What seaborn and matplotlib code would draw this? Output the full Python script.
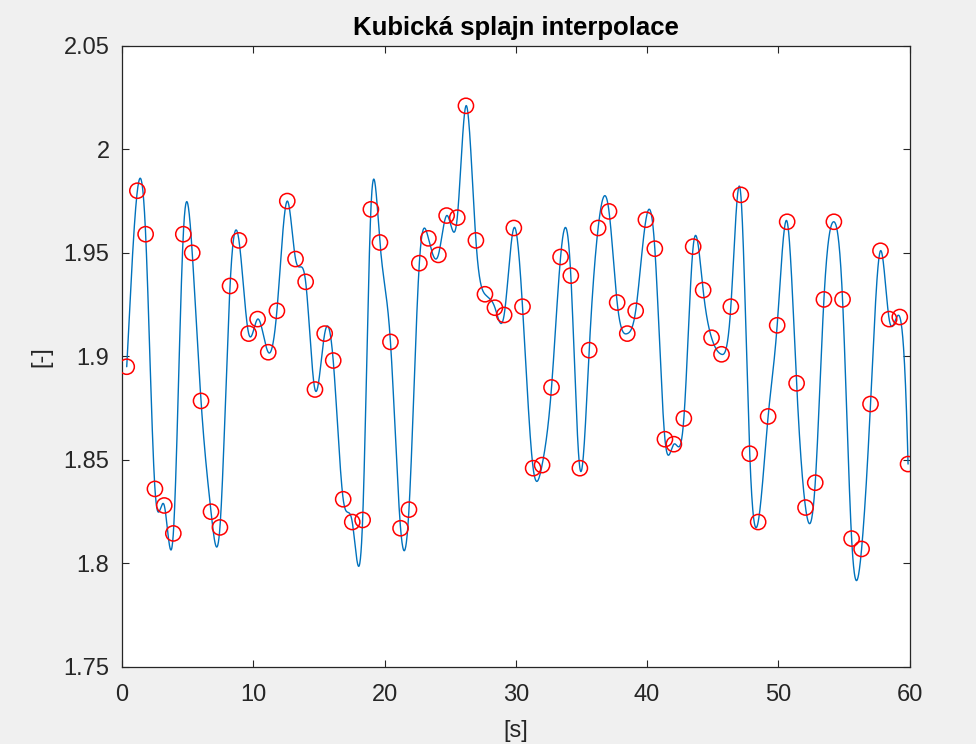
import numpy as np
import pandas as pd
import matplotlib
matplotlib.use("Agg")
import matplotlib.pyplot as plt
import seaborn as sns

# measured samples (time [s], value [-])
t = [0.36, 1.17, 1.80, 2.51, 3.22, 3.91, 4.67, 5.35, 6.02, 6.78,
     7.46, 8.23, 8.91, 9.65, 10.33, 11.14, 11.80, 12.59, 13.22, 13.99,
     14.70, 15.44, 16.09, 16.85, 17.54, 18.33, 18.96, 19.65, 20.45, 21.22,
     21.86, 22.65, 23.34, 24.10, 24.73, 25.54, 26.20, 26.96, 27.65, 28.41,
     29.11, 29.85, 30.51, 31.32, 32.00, 32.72, 33.41, 34.19, 34.88, 35.59,
     36.27, 37.10, 37.72, 38.49, 39.13, 39.91, 40.59, 41.36, 42.04, 42.80,
     43.51, 44.27, 44.91, 45.67, 46.38, 47.14, 47.82, 48.46, 49.22, 49.91,
     50.67, 51.39, 52.07, 52.81, 53.47, 54.23, 54.89, 55.58, 56.34, 57.02,
     57.78, 58.44, 59.25, 59.88]
vals = [1.895, 1.980, 1.959, 1.836, 1.828, 1.8145, 1.959, 1.950, 1.8785, 1.825,
        1.8174, 1.934, 1.956, 1.911, 1.918, 1.902, 1.922, 1.975, 1.947, 1.936,
        1.884, 1.911, 1.898, 1.831, 1.820, 1.821, 1.971, 1.955, 1.907, 1.817,
        1.826, 1.945, 1.957, 1.949, 1.968, 1.967, 2.021, 1.956, 1.930, 1.9235,
        1.920, 1.962, 1.924, 1.846, 1.8475, 1.885, 1.948, 1.939, 1.846, 1.903,
        1.962, 1.970, 1.926, 1.911, 1.922, 1.966, 1.952, 1.860, 1.8576, 1.870,
        1.953, 1.932, 1.909, 1.901, 1.924, 1.978, 1.853, 1.820, 1.871, 1.915,
        1.965, 1.887, 1.827, 1.839, 1.9275, 1.965, 1.9275, 1.812, 1.807, 1.877,
        1.951, 1.918, 1.919, 1.848]

xticks = [0, 10, 20, 30, 40, 50, 60]
yticks = [1.75, 1.8, 1.85, 1.9, 1.95, 2.0, 2.05]
ytick_labels = ["1.75", "1.8", "1.85", "1.9", "1.95", "2", "2.05"]


def spline_nak(x, y, xx):
    # cubic spline with not-a-knot ends (same as MATLAB spline)
    x = np.asarray(x, float); y = np.asarray(y, float)
    n = len(x)
    h = np.diff(x); d = np.diff(y) / h
    A = np.zeros((n, n)); r = np.zeros(n)
    for i in range(1, n - 1):
        A[i, i - 1] = h[i]
        A[i, i] = 2 * (h[i - 1] + h[i])
        A[i, i + 1] = h[i - 1]
        r[i] = 3 * (h[i] * d[i - 1] + h[i - 1] * d[i])
    A[0, 0] = h[1]; A[0, 1] = h[0] + h[1]
    r[0] = ((h[0] + 2 * (h[0] + h[1])) * h[1] * d[0] + h[0] ** 2 * d[1]) / (h[0] + h[1])
    A[-1, -2] = h[-1] + h[-2]; A[-1, -1] = h[-2]
    r[-1] = (h[-1] ** 2 * d[-2] + (2 * (h[-2] + h[-1]) + h[-1]) * h[-2] * d[-1]) / (h[-2] + h[-1])
    s = np.linalg.solve(A, r)
    k = np.clip(np.searchsorted(x, xx) - 1, 0, n - 2)
    u = xx - x[k]
    c = (3 * d[k] - 2 * s[k] - s[k + 1]) / h[k]
    b = (s[k] - 2 * d[k] + s[k + 1]) / h[k] ** 2
    return y[k] + u * (s[k] + u * (c + u * b))


pts = pd.DataFrame({"t": t, "val": vals})
tt = np.linspace(t[0], t[-1], 4000)
curve = pd.DataFrame({"t": tt, "val": spline_nak(t, vals, tt)})

sns.set_style("ticks")
plt.rcParams["font.family"] = ["Liberation Sans", "DejaVu Sans"]

fig = plt.figure(figsize=(9.76, 7.44), dpi=100, facecolor="#f0f0f0")
ax = fig.add_axes([0.125, 0.1035, 0.807, 0.835])
ax.set_facecolor("white")

sns.lineplot(data=curve, x="t", y="val", ax=ax, color="#0072BD",
             linewidth=1.0, sort=False, estimator=None)
sns.scatterplot(data=pts, x="t", y="val", ax=ax, marker="o", s=120,
                facecolor="none", edgecolor="red", linewidth=1.1, zorder=3)

ax.set_xlim(0, 60); ax.set_ylim(1.75, 2.05)
ax.set_xticks(xticks); ax.set_yticks(yticks)
ax.set_xticklabels([str(v) for v in xticks])
ax.set_yticklabels(ytick_labels)
ax.tick_params(direction="in", length=5, width=0.8, colors="#262626",
               labelsize=17, top=True, right=True)
ax.tick_params(axis="y", pad=9)
ax.tick_params(axis="x", pad=12)
for sp in ax.spines.values():
    sp.set_visible(True); sp.set_color("#262626"); sp.set_linewidth(0.9)

ax.set_title("Kubická splajn interpolace", fontsize=18.5, fontweight="bold",
             color="black", pad=8)
ax.set_xlabel("[s]", fontsize=17, color="#262626", labelpad=10)
ax.set_ylabel("[-]", fontsize=17, color="#262626", labelpad=8)

fig.savefig("out.png", dpi=100, facecolor=fig.get_facecolor())
plt.close()
